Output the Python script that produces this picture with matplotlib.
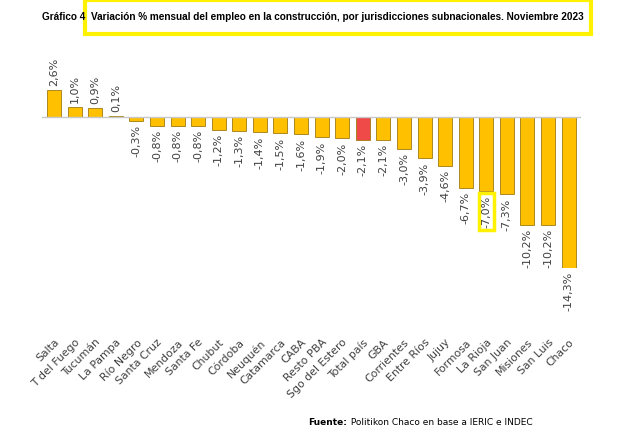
import matplotlib
matplotlib.use('Agg')
from matplotlib import pyplot as plt
from matplotlib.patches import Rectangle

provincias = ['Salta', 'T del Fuego', 'Tucumán', 'La Pampa', 'Río Negro', 'Santa Cruz',
              'Mendoza', 'Santa Fe', 'Chubut', 'Córdoba', 'Neuquén', 'Catamarca', 'CABA',
              'Resto PBA', 'Sgo del Estero', 'Total país', 'GBA', 'Corrientes', 'Entre Ríos',
              'Jujuy', 'Formosa', 'La Rioja', 'San Juan', 'Misiones', 'San Luis', 'Chaco']
variacion = [2.6, 1.0, 0.9, 0.1, -0.3, -0.8, -0.8, -0.8, -1.2, -1.3, -1.4, -1.5, -1.6,
             -1.9, -2.0, -2.1, -2.1, -3.0, -3.9, -4.6, -6.7, -7.0, -7.3, -10.2, -10.2, -14.3]

fig = plt.figure(figsize=(6.42, 4.48), dpi=100)
ax = fig.add_axes([0.065, 0.402, 0.84, 0.397])

colors = ['#F04A48' if p == 'Total país' else '#FFC000' for p in provincias]
x = range(len(provincias))
ax.bar(x, variacion, width=0.68, color=colors, edgecolor='#A07A10', linewidth=0.6)
ax.axhline(0, color='#C8C8C8', lw=1)
ax.set_xlim(-0.6, len(provincias) - 0.4)
ax.set_ylim(-14.3, 2.6)

for i, v in enumerate(variacion):
    s = f'{v:.1f}%'.replace('.', ',')
    if v >= 0:
        ax.text(i, v + 0.4, s, rotation=90, ha='center', va='bottom', fontsize=8, color='#404040')
    else:
        t = ax.text(i, v - 0.4, s, rotation=90, ha='center', va='top', fontsize=8, color='#404040')
        if provincias[i] == 'La Rioja':
            t.set_bbox(dict(facecolor='none', edgecolor='#FFF200', linewidth=2.5, pad=2))

ax.set_xticks(list(x))
ax.set_xticklabels(provincias, rotation=45, ha='right', rotation_mode='anchor',
                   fontsize=7.8, color='#404040')
ax.tick_params(axis='x', length=0, pad=50)
ax.set_yticks([])
for sp in ax.spines.values():
    sp.set_visible(False)

fig.text(0.066, 0.962, 'Gráfico 4', fontsize=7.2, fontweight='bold', ha='left', va='center',
         family='Liberation Sans')
fig.text(0.142, 0.962, 'Variación % mensual del empleo en la construcción, por jurisdicciones subnacionales. Noviembre 2023',
         fontsize=7.2, fontweight='bold', ha='left', va='center', family='Liberation Sans')
fig.patches.append(Rectangle((0.133, 0.925), 0.787, 0.075, transform=fig.transFigure,
                             fill=False, edgecolor='#FFF200', linewidth=3))
fig.text(0.54, 0.058, 'Fuente:', fontsize=6.5, fontweight='bold', ha='right', va='center')
fig.text(0.542, 0.058, ' Politikon Chaco en base a IERIC e INDEC', fontsize=6.5, ha='left', va='center')

fig.savefig('out.png', dpi=100)
